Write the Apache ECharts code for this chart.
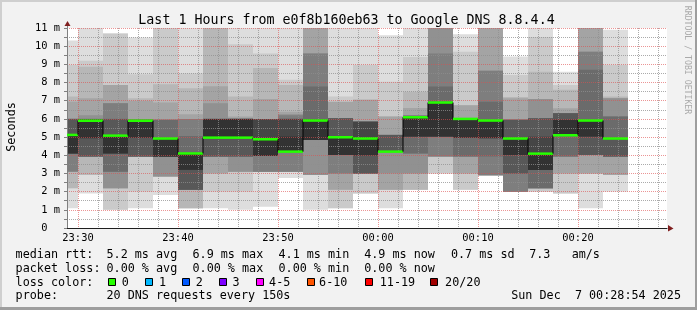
<!DOCTYPE html>
<html><head><meta charset="utf-8">
<script src="https://cdn.jsdelivr.net/npm/echarts@6/dist/echarts.min.js"></script>
<style>html,body{margin:0;padding:0;background:#f2f2f2}#c{width:697px;height:310px}</style>
</head><body><div id="c"></div>
<script>
// ---- data ----
const axisStart = '2025-12-06T23:28:54';
const axisEnd   = '2025-12-07T00:28:54';
const stepMinutes = 2.5; // 150 s per column
const columnStarts = [
  '2025-12-06T23:27:30','2025-12-06T23:30:00','2025-12-06T23:32:30','2025-12-06T23:35:00',
  '2025-12-06T23:37:30','2025-12-06T23:40:00','2025-12-06T23:42:30','2025-12-06T23:45:00',
  '2025-12-06T23:47:30','2025-12-06T23:50:00','2025-12-06T23:52:30','2025-12-06T23:55:00',
  '2025-12-06T23:57:30','2025-12-07T00:00:00','2025-12-07T00:02:30','2025-12-07T00:05:00',
  '2025-12-07T00:07:30','2025-12-07T00:10:00','2025-12-07T00:12:30','2025-12-07T00:15:00',
  '2025-12-07T00:17:30','2025-12-07T00:20:00','2025-12-07T00:22:30'
];
const medians = [5.12,5.9,5.08,5.9,4.92,4.1,4.97,4.97,4.88,4.2,5.91,4.99,4.92,4.2,6.09,6.9,6.0,5.91,4.92,4.09,5.1,5.91,4.92];
// 20 sorted ping rtts (ms) per column
const smokePings = [
  [1.08,2.18,2.18,3.1,3.1,3.1,4.1,4.1,4.1,4.1, 5.1,5.1,6.0,6.0,6.0,6.0,6.95,7.23,8.97,10.31],
  [1.9,2.92,2.92,3.93,3.93,3.93,3.93,3.93,4.94,4.94, 5.9,6.0,6.0,6.0,6.0,6.2,7.13,8.87,9.2,11.4],
  [1.0,1.0,2.18,2.18,2.18,3.1,3.1,4.1,4.1,4.1, 5.08,5.08,6.0,6.0,6.86,6.86,7.87,7.87,10.7,10.7],
  [1.08,2.0,3.93,3.93,3.93,3.93,3.93,3.93,4.97,4.97, 5.9,5.95,5.95,5.95,5.95,5.95,7.0,7.14,8.46,10.48],
  [1.82,2.83,2.83,2.83,2.83,3.93,3.93,3.93,3.93,3.93, 4.92,4.92,4.92,5.95,5.95,5.95,6.9,7.9,11.3,11.3],
  [1.08,1.08,1.08,2.1,2.1,2.1,2.1,2.1,3.2,3.2, 4.1,4.1,4.1,5.06,6.0,6.0,6.25,7.68,8.5,11.3],
  [1.08,2.0,3.0,3.0,3.93,3.93,3.93,3.93,4.97,4.97, 6.0,6.0,6.0,6.0,6.0,6.86,7.8,11.5,11.5,11.5],
  [1.0,2.0,3.1,3.1,3.1,3.93,3.93,3.93,4.97,4.97, 6.0,6.0,6.0,6.0,6.0,6.05,6.13,7.23,10.1,11.3],
  [1.17,3.1,3.1,3.1,3.1,3.1,3.96,3.96,3.96,3.96, 4.88,5.98,5.98,5.98,5.98,5.98,7.1,8.8,9.6,11.3],
  [2.75,3.1,3.1,3.1,3.1,3.1,4.2,4.2,4.2,4.2, 5.03,6.0,6.0,6.0,6.2,6.25,6.4,7.87,8.15,11.3],
  [1.0,2.92,2.92,2.92,2.92,4.84,4.84,4.84,4.84,4.84, 5.91,5.95,5.95,7.78,9.6,9.6,11.5,11.5,11.5,11.5],
  [1.08,1.08,2.1,2.1,3.0,3.0,4.02,4.02,4.02,4.02, 4.99,4.99,6.04,6.04,6.04,6.04,6.95,6.95,7.23,11.3],
  [1.9,1.9,3.0,3.0,3.0,3.0,3.0,3.0,4.0,4.0, 4.92,5.85,5.85,5.85,5.85,5.85,7.05,7.05,8.97,11.3],
  [1.08,2.1,2.1,2.1,3.0,4.2,4.2,4.2,4.2,4.2, 4.2,4.2,5.12,5.12,5.12,5.12,6.13,6.13,8.05,10.6],
  [2.1,2.1,2.1,3.0,3.0,4.1,4.1,5.03,5.03,5.03, 6.09,6.09,6.09,6.09,6.2,6.2,6.6,7.5,9.4,11.3],
  [3.0,3.0,3.93,3.93,3.93,3.93,5.03,5.03,5.03,5.03, 6.9,6.9,6.9,7.78,9.6,11.5,11.5,11.5,11.5,11.5],
  [2.1,2.1,3.0,3.0,3.93,3.93,3.93,4.97,4.97,4.97, 6.02,6.02,6.02,6.02,6.02,6.02,6.75,6.75,9.7,10.65],
  [2.9,2.9,2.9,2.9,2.9,2.9,3.93,4.94,4.94,4.94, 5.91,5.91,5.91,6.95,8.65,8.65,11.5,11.5,11.5,11.5],
  [2.0,2.0,2.0,2.0,2.0,2.0,3.0,3.0,4.02,4.02, 4.92,4.92,5.95,5.95,5.95,5.95,7.14,7.2,8.42,9.43],
  [2.0,2.0,2.18,2.18,2.18,2.18,2.18,3.19,3.19,3.19, 4.09,5.03,6.04,6.04,6.04,7.1,7.1,8.6,10.5,11.3],
  [1.9,1.9,3.0,3.0,3.93,3.93,3.93,5.1,5.1,5.1, 5.95,5.95,6.31,6.31,6.31,6.31,6.59,7.6,7.87,8.6],
  [1.08,3.0,3.0,3.0,4.02,4.02,4.02,4.02,5.03,5.03, 5.91,5.91,5.91,8.7,9.7,9.7,11.5,11.5,11.5,11.5],
  [2.0,2.92,2.92,2.92,3.93,3.93,3.93,3.93,4.92,4.92, 4.92,4.92,4.92,6.13,6.13,7.14,7.14,7.23,8.97,10.9]
];
const yMax = 11;
const yUnit = 'm';
const titleText = 'Last 1 Hours from e0f8b160eb63 to Google DNS 8.8.4.4';
const yAxisName = 'Seconds';
const watermark = 'RRDTOOL / TOBI OETIKER';
const rttItems = ['median rtt:', '5.2 ms avg', '6.9 ms max', '4.1 ms min', '4.9 ms now', '0.7 ms sd', '7.3   am/s'];
const lossItems = ['packet loss:', '0.00 % avg', '0.00 % max', '0.00 % min', '0.00 % now'];
const lossLabels = ['0', '1', '2', '3', '4-5', '6-10', '11-19', '20/20'];
const lossColors = ['#26ff00', '#00b8ff', '#0059ff', '#7e00ff', '#ff00ff', '#ff5500', '#ff0000', '#a10000'];
const probeItems = ['probe:', '20 DNS requests every 150s'];
const dateText = 'Sun Dec  7 00:28:54 2025';

// ---- helpers ----
const dayStart = new Date('2025-12-06T00:00:00').getTime();
const toMin = s => (new Date(s).getTime() - dayStart) / 60000;
const xMin = toMin(axisStart), xMax = toMin(axisEnd);
const pad = n => (n < 10 ? '0' : '') + n;
const MONO = '"DejaVu Sans Mono", monospace';

const smokeData = columnStarts.map((s, i) => [toMin(s)].concat(smokePings[i]));
const medianData = columnStarts.map((s, i) => [toMin(s), medians[i]]);

function renderSmoke(params, api) {
  const t = api.value(0);
  const xa = api.coord([t, 0])[0];
  const xb = api.coord([t + stepMinutes, 0])[0];
  const cs = params.coordSys;
  const children = [];
  for (let k = 1; k <= 10; k++) {
    const lo = api.value(k), hi = api.value(21 - k);
    if (!(hi > lo)) continue;
    const yTop = api.coord([t, hi])[1], yBot = api.coord([t, lo])[1];
    const r = echarts.graphic.clipRectByRect(
      {x: xa, y: yTop, width: xb - xa, height: yBot - yTop},
      {x: cs.x, y: cs.y, width: cs.width, height: cs.height});
    if (!r) continue;
    const g = Math.floor(190 / 10 * (10 - k)) + 50;
    children.push({type: 'rect', shape: r, style: {fill: 'rgb(' + g + ',' + g + ',' + g + ')'}});
  }
  return {type: 'group', children};
}

function renderMedian(params, api) {
  const i = params.dataIndex;
  const t = api.value(0);
  const cs = params.coordSys;
  const p = api.coord([t, api.value(1)]);
  const xEnd = api.coord([t + stepMinutes, 0])[0];
  const xa = Math.max(p[0], cs.x);
  const children = [];
  if (i > 0 && p[0] >= cs.x) {
    const yPrev = api.coord([t, medians[i - 1]])[1];
    children.push({type: 'line', shape: {x1: p[0], y1: yPrev, x2: p[0], y2: p[1]}, style: {stroke: '#000', lineWidth: 1}});
  }
  children.push({type: 'line', shape: {x1: xa, y1: p[1], x2: xEnd, y2: p[1]}, style: {stroke: lossColors[0], lineWidth: 2.5}});
  return {type: 'group', children};
}

const MGRID = 'rgba(222,79,79,0.6)';
const GRID = 'rgba(143,143,143,0.75)';
const NOGRID = 'rgba(0,0,0,0)';

const chart = echarts.init(document.getElementById('c'), null, {renderer: 'canvas'});
chart.setOption({
  animation: false,
  backgroundColor: '#f2f2f2',
  grid: {left: 67, right: 30, top: 28, bottom: 82, show: true, backgroundColor: '#ffffff', borderWidth: 0},
  xAxis: [{
    type: 'value', min: xMin, max: xMax, splitNumber: 6, z: 3,
    axisLine: {show: true, onZero: false, lineStyle: {color: '#1f1f1f', width: 1}},
    axisTick: {show: false},
    axisLabel: {
      showMinLabel: false, showMaxLabel: false, margin: 5, color: '#000',
      fontFamily: MONO, fontSize: 10.4,
      formatter: v => { const m = Math.round(v) % 1440; return pad(Math.floor(m / 60)) + ':' + pad(m % 60); }
    },
    splitLine: {show: true, showMinLine: false, showMaxLine: false, lineStyle: {color: MGRID, type: [1, 1], width: 1}}
  }, {
    type: 'value', min: xMin, max: xMax, splitNumber: 30, z: 2.5, position: 'bottom',
    axisLine: {show: false}, axisTick: {show: false}, axisLabel: {show: false},
    splitLine: {show: true, showMinLine: false, showMaxLine: false,
      lineStyle: {color: [NOGRID, GRID, GRID, GRID, GRID], type: [1, 1], width: 1}}
  }],
  yAxis: {
    type: 'value', min: 0, max: yMax, interval: 1, z: 3,
    axisLine: {show: true, lineStyle: {color: '#808080', width: 1}},
    axisTick: {show: true, length: 3, lineStyle: {color: '#808080'}},
    minorTick: {show: true, splitNumber: 2, length: 3, lineStyle: {color: '#808080'}},
    axisLabel: {
      margin: 7, color: '#000', fontFamily: MONO, fontSize: 10.4, padding: [3, 0, 0, 0],
      formatter: v => v === 0 ? '0  ' : v + ' ' + yUnit
    },
    splitLine: {show: true, lineStyle: {color: MGRID, type: [1, 1], width: 1}},
    minorSplitLine: {show: true, lineStyle: {color: GRID, type: [1, 1], width: 1}}
  },
  series: [
    {type: 'custom', name: 'smoke', xAxisIndex: 0, yAxisIndex: 0, z: 2, silent: true,
     renderItem: renderSmoke, data: smokeData, encode: {x: 0, y: 1}},
    {type: 'custom', name: 'median', xAxisIndex: 0, yAxisIndex: 0, z: 5, silent: true,
     renderItem: renderMedian, data: medianData, encode: {x: 0, y: 1}}
  ]
});

// ---- decorations ----
const tl = chart.convertToPixel({xAxisIndex: 0, yAxisIndex: 0}, [xMin, yMax]);
const br = chart.convertToPixel({xAxisIndex: 0, yAxisIndex: 0}, [xMax, 0]);
const ARROW = '#801f1f';
const txt = (x, y, text, opts) => Object.assign({
  type: 'text', x, y, silent: true,
  style: Object.assign({text, fill: '#000', fontFamily: MONO, fontSize: 11.75,
    align: 'left', textAlign: 'left', verticalAlign: 'middle', textVerticalAlign: 'middle'}, (opts && opts.style) || {})
}, opts && opts.el ? opts.el : {});

const g = [];
// frame shading
g.push({type: 'rect', shape: {x: 0, y: 0, width: 697, height: 2}, style: {fill: '#cfcfcf'}, silent: true});
g.push({type: 'rect', shape: {x: 0, y: 0, width: 2, height: 310}, style: {fill: '#cfcfcf'}, silent: true});
g.push({type: 'rect', shape: {x: 0, y: 307, width: 697, height: 3}, style: {fill: '#9e9e9e'}, silent: true});
g.push({type: 'rect', shape: {x: 695, y: 0, width: 2, height: 310}, style: {fill: '#9e9e9e'}, silent: true});
// axis arrows
g.push({type: 'line', shape: {x1: tl[0] + 0.5, y1: tl[1], x2: tl[0] + 0.5, y2: tl[1] - 3}, style: {stroke: '#808080', lineWidth: 1}, silent: true, z: 10});
g.push({type: 'polygon', shape: {points: [[tl[0] - 2.5, tl[1] - 2], [tl[0] + 3.5, tl[1] - 2], [tl[0] + 0.5, tl[1] - 7]]}, style: {fill: ARROW}, silent: true, z: 10});
g.push({type: 'polygon', shape: {points: [[br[0] + 1, br[1] - 3], [br[0] + 1, br[1] + 3.5], [br[0] + 6.5, br[1] + 0.5]]}, style: {fill: ARROW}, silent: true, z: 10});
// title and side texts
g.push(txt(346.5, 20.5, titleText, {style: {fontSize: 13.3, align: 'center', textAlign: 'center'}}));
g.push(txt(11.9, 127, yAxisName, {style: {fontSize: 11.8, align: 'center', textAlign: 'center'}, el: {rotation: Math.PI / 2}}));
g.push(txt(687.2, 60, watermark, {style: {fontSize: 8.2, fill: '#aaaaaa', align: 'center', textAlign: 'center'}, el: {rotation: -Math.PI / 2}}));
// legend rows
const col = [15.6, 106.5, 192.5, 278.5, 364.2, 450.9, 529.2];
const rows = [255.2, 268.9, 282.6, 296.3];
rttItems.forEach((s, i) => g.push(txt(col[i], rows[0], s)));
lossItems.forEach((s, i) => g.push(txt(col[i], rows[1], s)));
g.push(txt(col[0], rows[2], 'loss color:'));
const boxX = [108.5, 145.5, 182.5, 219.5, 256.5, 307.5, 365.5, 430.5];
const labX = [121.8, 159.1, 195.8, 232.4, 269.1, 319.1, 379.8, 445.1];
lossLabels.forEach((s, i) => {
  g.push({type: 'rect', shape: {x: boxX[i], y: 278.5, width: 7, height: 7}, style: {fill: lossColors[i], stroke: '#000', lineWidth: 1}, silent: true});
  g.push(txt(labX[i], rows[2], s));
});
g.push(txt(col[0], rows[3], probeItems[0]));
g.push(txt(col[1], rows[3], probeItems[1]));
g.push(txt(681, rows[3], dateText, {style: {align: 'right', textAlign: 'right'}}));
chart.setOption({graphic: {elements: g}});
</script>
</body></html>
